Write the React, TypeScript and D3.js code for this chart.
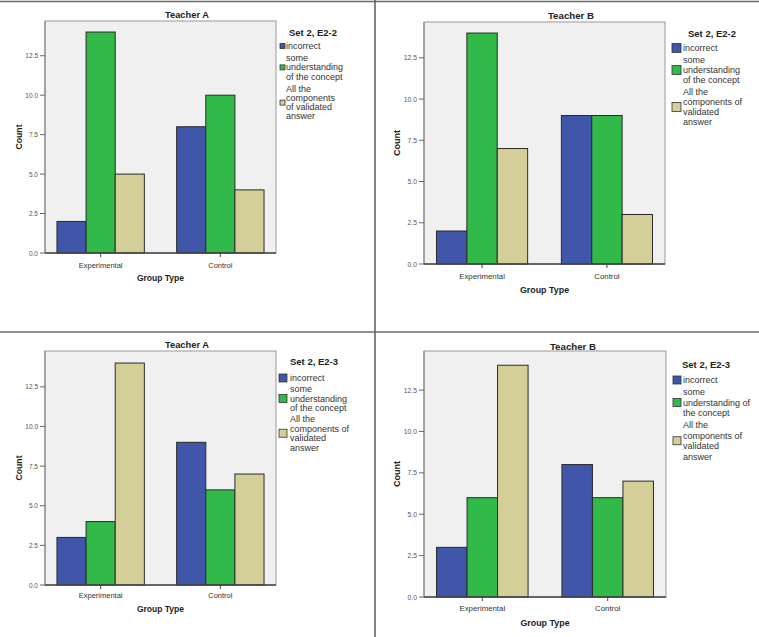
import React from "react";
import * as d3 from "d3";

// ---------- data ----------
const groups = ["Experimental", "Control"];
const seriesLabels = ["incorrect", "some understanding of the concept", "All the components of validated answer"];
const seriesColors = ["#3f56a9", "#31b94a", "#d4cf98"];
const yTicks = [0, 2.5, 5, 7.5, 10, 12.5];

// counts: [series][group]
const teacherA_E22 = [[2, 8], [14, 10], [5, 4]];
const teacherB_E22 = [[2, 9], [14, 9], [7, 3]];
const teacherA_E23 = [[3, 9], [4, 6], [14, 7]];
const teacherB_E23 = [[3, 8], [6, 6], [14, 7]];

// legend label wrapping per panel
const legendLinesA22 = [["incorrect"], ["some", "understanding", "of the concept"], ["All the", "components", "of validated", "answer"]];
const legendLinesB22 = [["incorrect"], ["some", "understanding", "of the concept"], ["All the", "components of", "validated", "answer"]];
const legendLinesA23 = [["incorrect"], ["some", "understanding", "of the concept"], ["All the", "components of", "validated", "answer"]];
const legendLinesB23 = [["incorrect"], ["some", "understanding of", "the concept"], ["All the", "components of", "validated", "answer"]];

const FONT = "'Liberation Sans', Arial, Helvetica, sans-serif";

type Layout = {
  plot: { l: number; r: number; t: number; b: number };
  yMax: number;
  titleX: number;
  titleY: number;
  xLabY: number;
  xTitleY: number;
  countX: number;
  s: number;
  legend: { titleX: number; titleY: number; swX: number; sw: number; txX: number; y0: number; lh: number; gap: number };
};

const panels: { title: string; legendTitle: string; data: number[][]; lines: string[][]; layout: Layout }[] = [
  {
    title: "Teacher A",
    legendTitle: "Set 2, E2-2",
    data: teacherA_E22,
    lines: legendLinesA22,
    layout: {
      plot: { l: 45, r: 276, t: 21, b: 253 },
      yMax: 14.7,
      titleX: 187,
      titleY: 15,
      xLabY: 265,
      xTitleY: 278,
      countX: 19,
      s: 1,
      legend: { titleX: 289, titleY: 32, swX: 280, sw: 5, txX: 286, y0: 46, lh: 9.2, gap: 3 },
    },
  },
  {
    title: "Teacher B",
    legendTitle: "Set 2, E2-2",
    data: teacherB_E22,
    lines: legendLinesB22,
    layout: {
      plot: { l: 424, r: 665, t: 22, b: 264 },
      yMax: 14.67,
      titleX: 571,
      titleY: 15,
      xLabY: 276,
      xTitleY: 290,
      countX: 397,
      s: 1.045,
      legend: { titleX: 688, titleY: 33, swX: 672, sw: 9, txX: 683, y0: 48, lh: 10, gap: 2 },
    },
  },
  {
    title: "Teacher A",
    legendTitle: "Set 2, E2-3",
    data: teacherA_E23,
    lines: legendLinesA23,
    layout: {
      plot: { l: 45, r: 276, t: 351, b: 585 },
      yMax: 14.76,
      titleX: 187,
      titleY: 345,
      xLabY: 595,
      xTitleY: 609,
      countX: 19,
      s: 1,
      legend: { titleX: 290, titleY: 361, swX: 279, sw: 8, txX: 290, y0: 378, lh: 9.5, gap: 1.5 },
    },
  },
  {
    title: "Teacher B",
    legendTitle: "Set 2, E2-3",
    data: teacherB_E23,
    lines: legendLinesB23,
    layout: {
      plot: { l: 424, r: 666, t: 351, b: 597 },
      yMax: 14.86,
      titleX: 573,
      titleY: 346,
      xLabY: 608,
      xTitleY: 623,
      countX: 397,
      s: 1.045,
      legend: { titleX: 682, titleY: 364, swX: 673, sw: 8, txX: 683, y0: 380, lh: 10.5, gap: 1.5 },
    },
  },
];

function Panel({ title, legendTitle, data, lines, layout }: (typeof panels)[number]) {
  const { plot, yMax, s, legend } = layout;
  const x0 = d3.scaleBand<string>().domain(groups).range([plot.l, plot.r]).paddingInner(0.27).paddingOuter(0.1);
  const x1 = d3.scaleBand<number>().domain(d3.range(seriesLabels.length)).range([0, x0.bandwidth()]);
  const y = d3.scaleLinear().domain([0, yMax]).range([plot.b, plot.t]);
  const fmt = d3.format(".1f");

  // legend item positions
  const itemYs: number[] = [];
  let cy = legend.y0;
  lines.forEach((ls) => {
    itemYs.push(cy);
    cy += ls.length * legend.lh + legend.gap;
  });

  return (
    <g fontFamily={FONT}>
      <text x={layout.titleX} y={layout.titleY} textAnchor="middle" dominantBaseline="central" fontWeight="bold" fontSize={9.3 * s} fill="#222">
        {title}
      </text>
      {/* plot background */}
      <rect x={plot.l} y={plot.t} width={plot.r - plot.l} height={plot.b - plot.t} fill="#f0f0f0" stroke="#9a9a9a" strokeWidth={1} />
      {/* bars */}
      {data.map((vals, si) =>
        vals.map((v, gi) => (
          <rect
            key={`${si}-${gi}`}
            x={(x0(groups[gi]) as number) + (x1(si) as number)}
            y={y(v)}
            width={x1.bandwidth()}
            height={y(0) - y(v)}
            fill={seriesColors[si]}
            stroke="#2a2a2a"
            strokeWidth={1}
          />
        ))
      )}
      {/* y axis */}
      <line x1={plot.l} x2={plot.l} y1={plot.t} y2={plot.b} stroke="#8a8a8a" strokeWidth={1.2} />
      {yTicks.map((t) => (
        <g key={t}>
          <line x1={plot.l - 5} x2={plot.l} y1={y(t)} y2={y(t)} stroke="#666" strokeWidth={1} />
          <text x={plot.l - 7} y={y(t)} textAnchor="end" dominantBaseline="central" fontSize={6.5 * s} fill="#555">
            {fmt(t)}
          </text>
        </g>
      ))}
      {/* x axis */}
      <line x1={plot.l} x2={plot.r} y1={plot.b} y2={plot.b} stroke="#444" strokeWidth={1.3} />
      {groups.map((g) => {
        const cx = (x0(g) as number) + x0.bandwidth() / 2;
        return (
          <g key={g}>
            <line x1={cx} x2={cx} y1={plot.b} y2={plot.b + 4} stroke="#444" strokeWidth={1} />
            <text x={cx} y={layout.xLabY} textAnchor="middle" dominantBaseline="central" fontSize={7.5 * s} fill="#333">
              {g}
            </text>
          </g>
        );
      })}
      <text x={(plot.l + plot.r) / 2} y={layout.xTitleY} textAnchor="middle" dominantBaseline="central" fontWeight="bold" fontSize={8.5 * s} fill="#222">
        Group Type
      </text>
      <text
        transform={`translate(${layout.countX},${(plot.t + plot.b) / 2}) rotate(-90)`}
        textAnchor="middle"
        dominantBaseline="central"
        fontWeight="bold"
        fontSize={8.7 * s}
        fill="#222"
      >
        Count
      </text>
      {/* legend */}
      <text x={legend.titleX} y={legend.titleY} dominantBaseline="central" fontWeight="bold" fontSize={9.5} fill="#222">
        {legendTitle}
      </text>
      {lines.map((ls, i) => {
        const top = itemYs[i];
        const mid = top + ((ls.length - 1) * legend.lh) / 2;
        return (
          <g key={i}>
            <rect x={legend.swX} y={mid - legend.sw / 2} width={legend.sw} height={legend.sw} fill={seriesColors[i]} stroke="#333" strokeWidth={0.8} />
            {ls.map((t, j) => (
              <text key={j} x={legend.txX} y={top + j * legend.lh} dominantBaseline="central" fontSize={9} fill="#333">
                {t}
              </text>
            ))}
          </g>
        );
      })}
    </g>
  );
}

export default function App() {
  return (
    <svg width={759} height={637} style={{ position: "absolute", left: 0, top: 0, background: "#fff" }}>
      <rect x={0} y={0} width={759} height={637} fill="#fff" />
      {/* cell dividers */}
      <line x1={0} x2={759} y1={1.5} y2={1.5} stroke="#6a6a6a" strokeWidth={1.5} />
      <line x1={375} x2={375} y1={0} y2={637} stroke="#5a5a5a" strokeWidth={1.5} />
      <line x1={0} x2={759} y1={332} y2={332} stroke="#6a6a6a" strokeWidth={1.5} />
      {panels.map((p, i) => (
        <Panel key={i} {...p} />
      ))}
    </svg>
  );
}
